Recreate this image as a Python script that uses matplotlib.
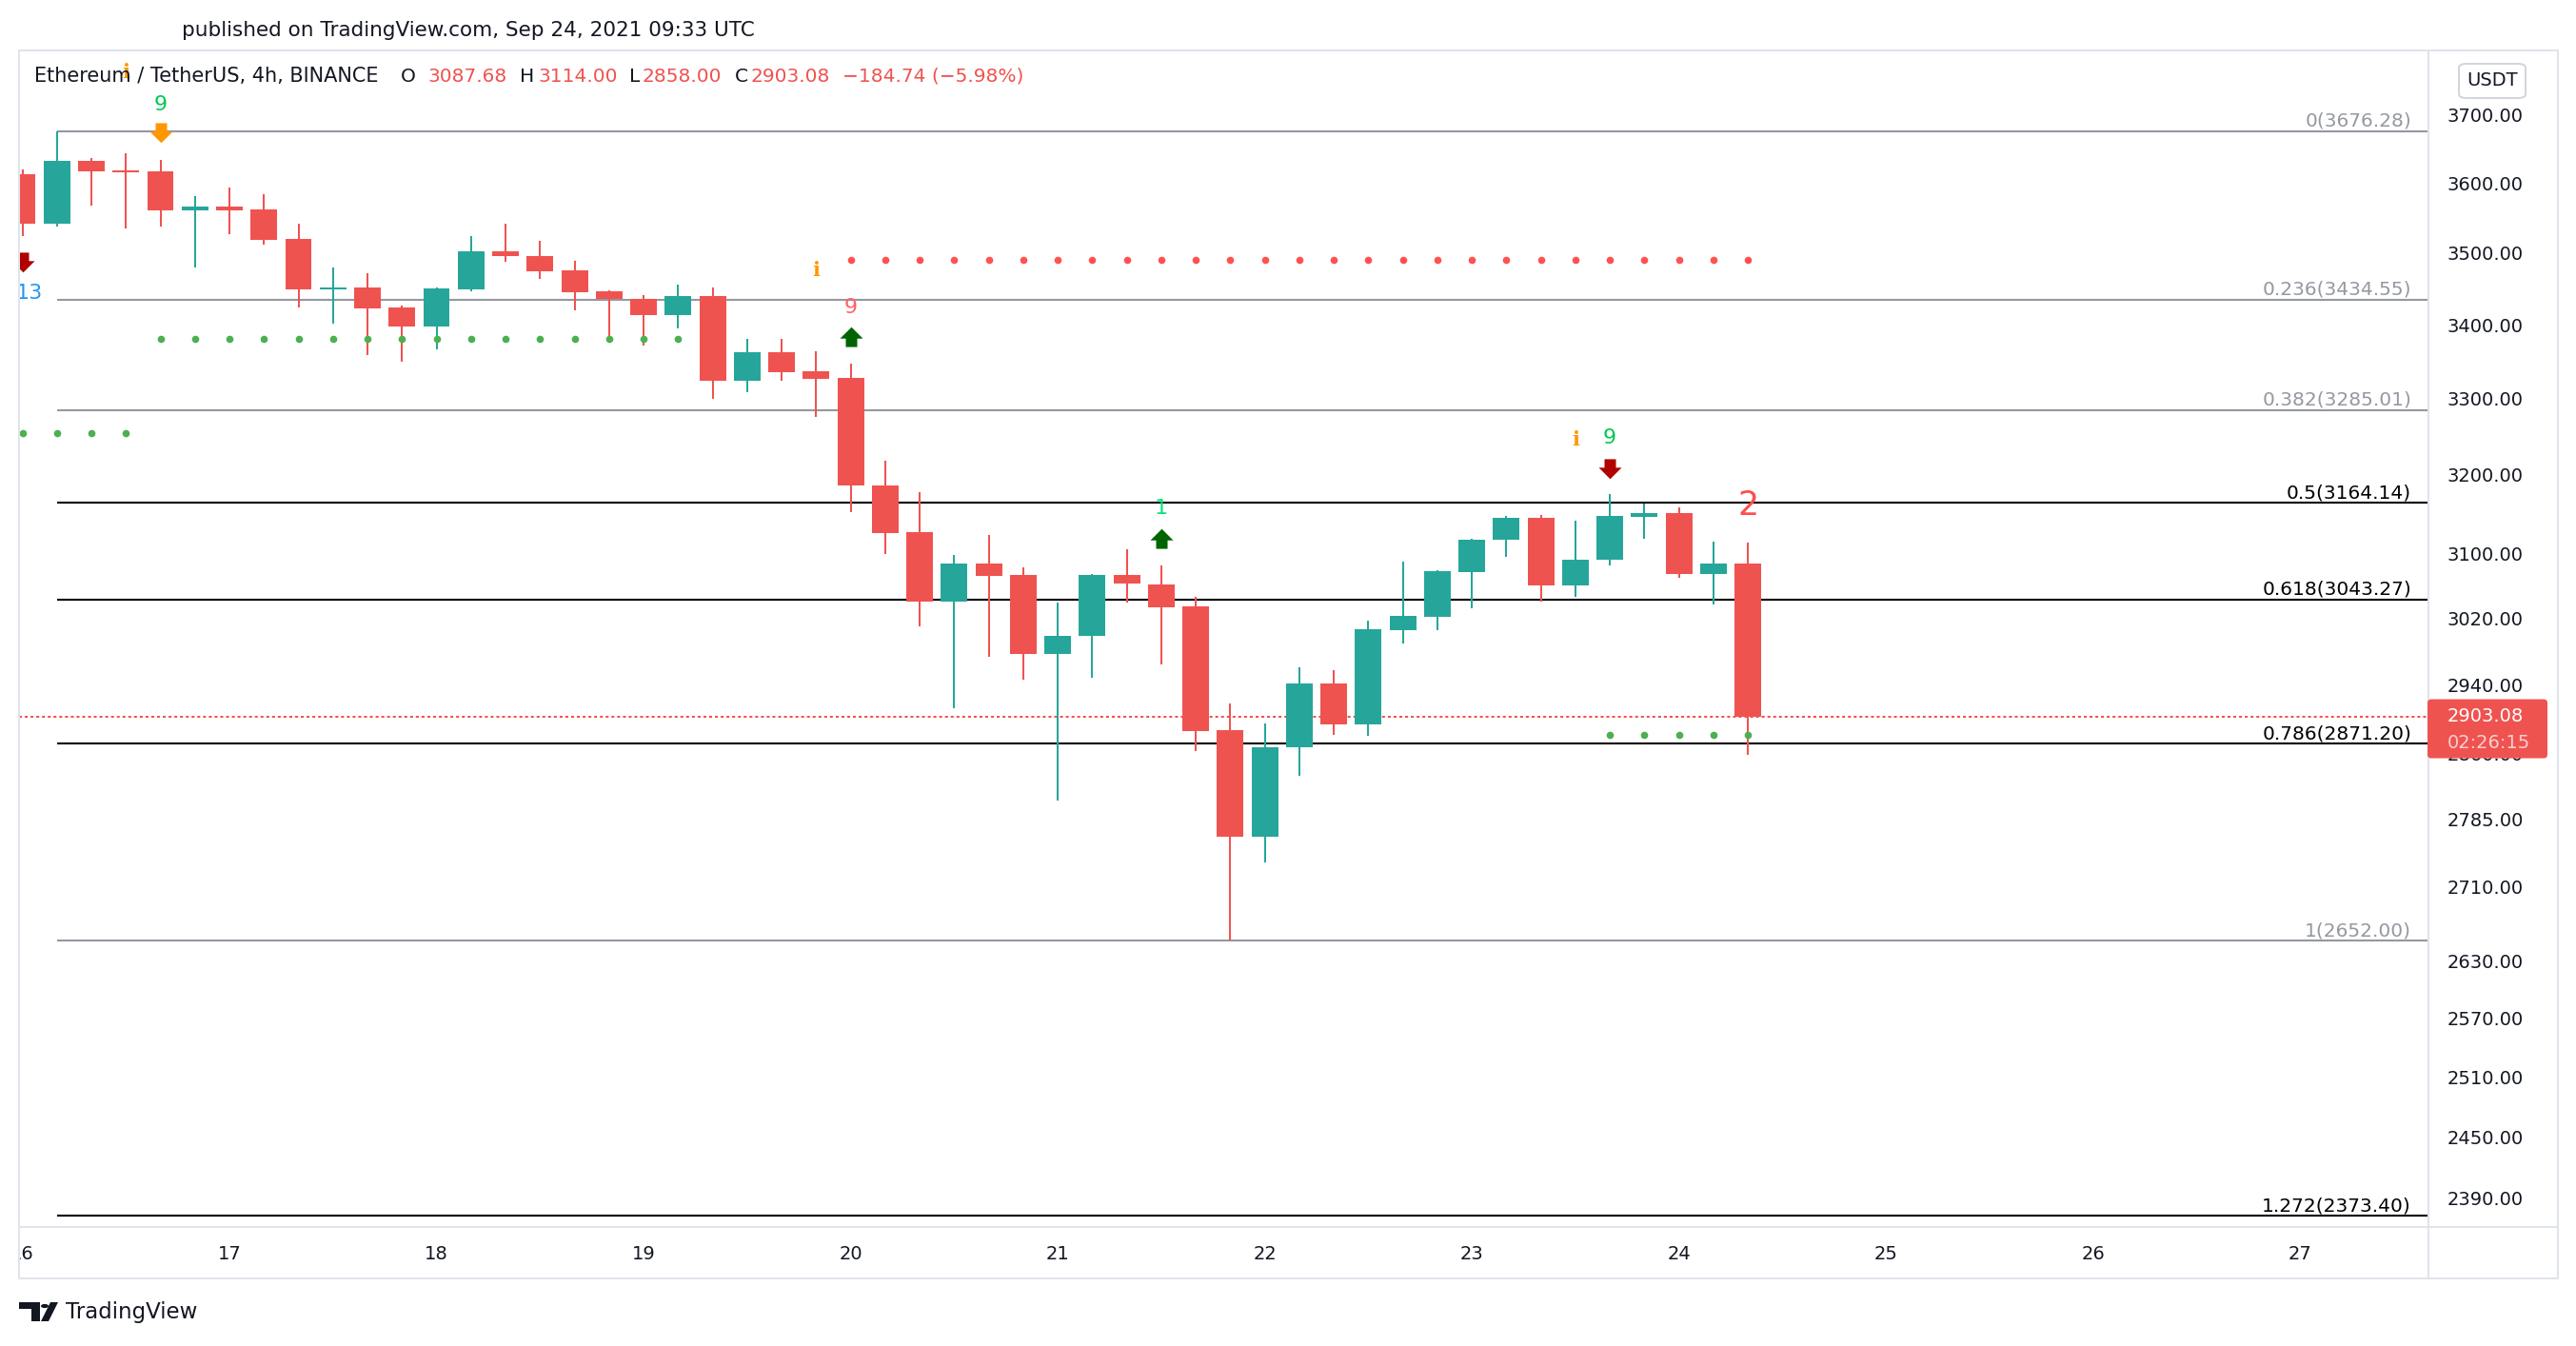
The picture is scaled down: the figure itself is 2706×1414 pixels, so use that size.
import numpy as np
import matplotlib
matplotlib.use("Agg")
import matplotlib.pyplot as plt
from matplotlib import transforms
from matplotlib.path import Path
from matplotlib.patches import FancyBboxPatch, Polygon, Circle
from matplotlib.lines import Line2D
from matplotlib.ticker import FixedLocator, NullLocator, NullFormatter

# ETH/USDT 4h candles, index 0 = Sep 16 00:00 UTC, index 50 = Sep 24 08:00 UTC
opens = [3613, 3541, 3632, 3619, 3617, 3561, 3566, 3562, 3520, 3449,
         3451, 3424, 3398, 3449, 3502, 3496, 3475, 3446, 3435, 3413,
         3439, 3324, 3362, 3337, 3328, 3187, 3127, 3041, 3088, 3073,
         2977, 2999, 3074, 3062, 3035, 2887, 2766, 2867, 2942, 2894,
         3006, 3022, 3077, 3118, 3145, 3061, 3092, 3146, 3151, 3075,
         3087.68]
highs = [3620, 3676.28, 3637, 3644, 3634, 3581, 3594, 3584, 3541, 3480,
         3471, 3426, 3452, 3524, 3541, 3517, 3489, 3448, 3441, 3455,
         3452, 3380, 3381, 3364, 3347, 3218, 3178, 3098, 3123, 3083,
         3040, 3075, 3105, 3085, 3047, 2918, 2895, 2961, 2958, 3017,
         3090, 3079, 3119, 3147, 3149, 3142, 3175, 3163, 3159, 3115,
         3114.00]
lows = [3524, 3537, 3567, 3534, 3538, 3480, 3526, 3512, 3424, 3402,
        3359, 3349, 3367, 3446, 3488, 3463, 3420, 3376, 3372, 3395,
        3300, 3309, 3324, 3276, 3152, 3099, 3010, 2913, 2974, 2946,
        2806, 2949, 3039, 2964, 2863, 2652, 2737, 2834, 2882, 2880,
        2990, 3006, 3033, 3096, 3041, 3047, 3085, 3119, 3070, 3037,
        2858.00]
closes = [3541, 3632, 3617, 3615, 3561, 3566, 3561, 3519, 3449, 3452,
          3423, 3398, 3450, 3502, 3495, 3474, 3445, 3435, 3413, 3439,
          3324, 3362, 3336, 3327, 3186, 3126, 3041, 3088, 3072, 2977,
          2999, 3074, 3063, 3034, 2886, 2766, 2867, 2942, 2894, 3007,
          3023, 3078, 3118, 3145, 3061, 3092, 3148, 3151, 3075, 3087.82,
          2903.08]

day_labels = ["16", "17", "18", "19", "20", "21", "22", "23", "24", "25", "26", "27"]
day_index = [0, 6, 12, 18, 24, 30, 36, 42, 48, 54, 60, 66]

price_ticks = [3700, 3600, 3500, 3400, 3300, 3200, 3100, 3020, 2940, 2860,
               2785, 2710, 2630, 2570, 2510, 2450, 2390]

# Fibonacci retracement (anchored on candle 1)
fib_ratios = ["0", "0.236", "0.382", "0.5", "0.618", "0.786", "1", "1.272"]
fib_prices = [3676.28, 3434.55, 3285.01, 3164.14, 3043.27, 2871.20, 2652.00, 2373.40]
fib_dark = [False, False, False, True, True, True, False, True]
fib_start = 1

# TD sequential marks
dots_green_x = [[0, 1, 2, 3],
                [4, 5, 6, 7, 8, 9, 10, 11, 12, 13, 14, 15, 16, 17, 18, 19],
                [46, 47, 48, 49, 50]]
dots_green_y = [3254, 3380, 2882]
dots_red_x = list(range(24, 51))
dots_red_y = 3490

count_x = [4, 24, 33, 46, 50, 0.2]
count_y = [3716, 3424, 3157, 3248, 3161, 3444]
count_txt = ["9", "9", "1", "9", "2", "13"]
count_col = ["#00c853", "#ff6161", "#00e676", "#00c853", "#ff4d4d", "#2196f3"]
count_size = [16, 16, 16, 16, 25, 16]

info_x = [3, 23, 45]
info_y = [3765, 3475, 3246]

arrow_dn_x = [0, 4, 46]
arrow_dn_y = [3487, 3674, 3209]
arrow_dn_col = ["#b00000", "#ff9800", "#b00000"]
arrow_up_x = [24, 33]
arrow_up_y = [3383, 3119]

countdown = "02:26:15"

W, H = 2706, 1414
RED = "#ef5350"
GREEN = "#26a69a"
GRAY = "#9598a1"
INK = "#131722"
BORDER = "#e0e3eb"


def fx(x):
    return x / W


def fy(y):
    return 1 - y / H


fig = plt.figure(figsize=(W / 100, H / 100), dpi=100)
fig.patch.set_facecolor("white")

ax = fig.add_axes([fx(20), fy(1289), (2551 - 20) / W, (1289 - 53) / H])
ax.set_yscale("log")
ax.set_ylim(2362.6, 3797.8)
ax.set_xlim(-0.097, 69.72)
for s in ax.spines.values():
    s.set_visible(False)
ax.tick_params(axis="x", bottom=False, labelbottom=False)
ax.yaxis.tick_right()
ax.yaxis.set_major_locator(FixedLocator(price_ticks))
ax.yaxis.set_minor_locator(NullLocator())
ax.yaxis.set_minor_formatter(NullFormatter())
ax.set_yticklabels([f"{v:.2f}" for v in price_ticks])
ax.tick_params(axis="y", length=0, pad=14.4, labelsize=14, labelcolor=INK)

# candles
o = np.array(opens)
c = np.array(closes)
x = np.arange(len(o))
cols = [GREEN if cc >= oo else RED for oo, cc in zip(o, c)]
ax.vlines(x, lows, highs, colors=cols, lw=1.45, zorder=3)
ax.bar(x, np.abs(c - o), bottom=np.minimum(o, c), width=0.77, color=cols,
       linewidth=0, zorder=4)

# fib levels
x_right = ax.get_xlim()[1]
lab_tr = transforms.offset_copy(
    transforms.blended_transform_factory(ax.transAxes, ax.transData),
    fig=fig, x=0, y=5, units="dots")
for r, p, dark in zip(fib_ratios, fib_prices, fib_dark):
    col = "black" if dark else GRAY
    ax.hlines(p, fib_start, x_right, color=col, lw=1.5, zorder=1)
    ax.text((2533 - 20) / 2531, p, f"{r}({p:.2f})", transform=lab_tr,
            ha="right", va="baseline", fontsize=14.5, color=col, zorder=2)

# last price line
ax.axhline(closes[-1], color=RED, lw=1.45, ls=(0, (1.5, 1.5)), zorder=2)

# TD dots
for xs, lvl in zip(dots_green_x, dots_green_y):
    ax.plot(xs, [lvl] * len(xs), "o", ms=5.5, color="#4caf50", mew=0, zorder=5)
ax.plot(dots_red_x, [dots_red_y] * len(dots_red_x), "o", ms=5.5, color="#ff5252",
        mew=0, zorder=5)

# arrows
dn_verts = [(-0.25, 0.42), (0.25, 0.42), (0.25, 0.05), (0.5, 0.05), (0, -0.45),
            (-0.5, 0.05), (-0.25, 0.05), (-0.25, 0.42)]
dn_path = Path(dn_verts, closed=True)
up_path = Path([(vx, -vy) for vx, vy in dn_verts], closed=True)
for ax_, ay_, ac in zip(arrow_dn_x, arrow_dn_y, arrow_dn_col):
    ax.plot(ax_, ay_, marker=dn_path, ms=17.3, color=ac, mew=0, ls="none", zorder=6)
ax.plot(arrow_up_x, arrow_up_y, marker=up_path, ms=17.3, color="#006400", mew=0,
        ls="none", zorder=6)

for tx, ty, tt, tc, ts in zip(count_x, count_y, count_txt, count_col, count_size):
    ax.text(tx, ty, tt, ha="center", va="center", color=tc, fontsize=ts, zorder=6)
for tx, ty in zip(info_x, info_y):
    ax.text(tx, ty, "i", ha="center", va="center", color="#ff9800", fontsize=15,
            family="DejaVu Serif", weight="bold", zorder=6)

# time scale
ax_t = fig.add_axes([fx(20), fy(1343), (2551 - 20) / W, (1343 - 1289) / H], sharex=ax)
ax_t.axis("off")
t_tr = transforms.blended_transform_factory(ax_t.transData, ax_t.transAxes)
for lbl, pos in zip(day_labels, day_index):
    ax_t.text(pos, 0.48, lbl, transform=t_tr, ha="center", va="center",
              fontsize=14, color=INK, clip_on=True)

# frame
for xs_, ys_ in [((20, 2687, 2687, 20, 20), (53, 53, 1343, 1343, 53)),
                 ((2551, 2551), (53, 1343)),
                 ((20, 2687), (1289, 1289))]:
    fig.add_artist(Line2D([fx(v) for v in xs_], [fy(v) for v in ys_],
                          transform=fig.transFigure, color=BORDER, lw=1.45))

# USDT badge
fig.add_artist(FancyBboxPatch((fx(2583), fy(103)), (2653 - 2583) / W, 36 / H,
                              boxstyle="round,pad=0,rounding_size=0.003",
                              transform=fig.transFigure, fc="white", ec="#d1d4dc", lw=1.4))
fig.text(fx(2618), fy(85), "USDT", ha="center", va="center", fontsize=14, color=INK)

# last price label on the scale
fig.canvas.draw()
y_last = ax.transData.transform((0, closes[-1]))[1]
ident = transforms.IdentityTransform()
fig.add_artist(FancyBboxPatch((2550, y_last - 44), 126, 62,
                              boxstyle="round,pad=0,rounding_size=4",
                              transform=ident, fc=RED, ec="none", zorder=10))
fig.add_artist(plt.Text(2571, y_last, f"{closes[-1]:.2f}", transform=ident,
                        ha="left", va="center", fontsize=14, color="white", zorder=11))
fig.add_artist(plt.Text(2571, y_last - 28, countdown, transform=ident,
                        ha="left", va="center", fontsize=14, color=(1, 1, 1, 0.72),
                        zorder=11))

# legend header
chg = closes[-1] - closes[-2]
pct = chg / closes[-2] * 100
hy = fy(80)
fig.text(fx(36), hy, "Ethereum / TetherUS, 4h, BINANCE", fontsize=15, color=INK,
         va="center")
for k, kx, val, vx in [("O", 421, opens[-1], 449), ("H", 546, highs[-1], 565),
                       ("L", 661, lows[-1], 675), ("C", 772, closes[-1], 789)]:
    fig.text(fx(kx), hy, k, fontsize=14.5, color=INK, va="center")
    fig.text(fx(vx), hy, f"{val:.2f}", fontsize=14.5, color=RED, va="center")
fig.text(fx(885), hy, f"\u2212{abs(chg):.2f} (\u2212{abs(pct):.2f}%)", fontsize=14.5,
         color=RED, va="center")

fig.text(fx(191), fy(32), "published on TradingView.com, Sep 24, 2021 09:33 UTC",
         fontsize=15.5, color=INK, va="center")

# TradingView logo
logo = [[(20, 1368), (42, 1368), (42, 1388), (33, 1388), (33, 1375), (20, 1375)],
        [(53, 1368), (61, 1368), (51, 1388), (43, 1388)]]
for poly in logo:
    fig.add_artist(Polygon([(fx(a), fy(b)) for a, b in poly], closed=True,
                           transform=fig.transFigure, fc=INK, ec="none"))
fig.add_artist(Circle((fx(47), fy(1372)), 4 / W, transform=fig.transFigure, fc=INK,
                      ec="none"))
fig.text(fx(69), fy(1378), "TradingView", fontsize=16.5, color=INK, va="center")

fig.savefig("out.png", dpi=100, facecolor="white")
